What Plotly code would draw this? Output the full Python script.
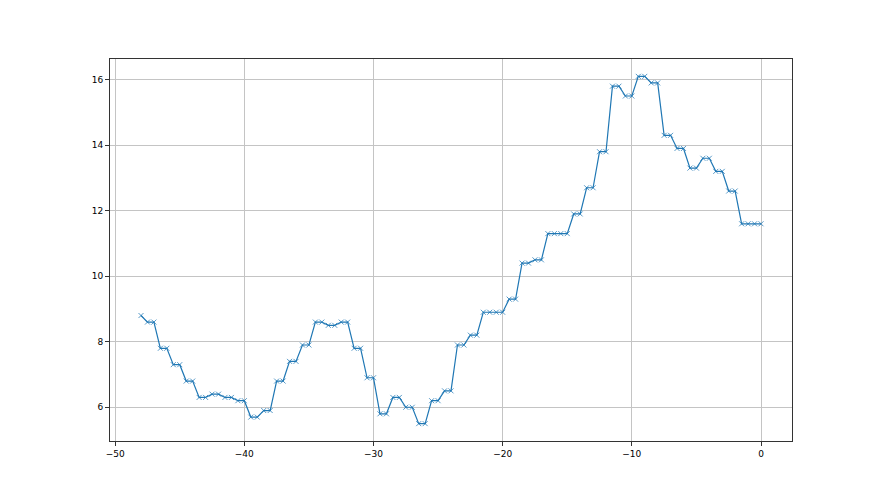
import numpy as np
import plotly.graph_objects as go

x_values = list(np.arange(-48, 0.001, 0.5))
y_values = [
    8.8,
    8.6, 8.6, 7.8, 7.8, 7.3, 7.3, 6.8, 6.8, 6.3, 6.3,
    6.4, 6.4, 6.3, 6.3, 6.2, 6.2, 5.7, 5.7, 5.9, 5.9,
    6.8, 6.8, 7.4, 7.4, 7.9, 7.9, 8.6, 8.6, 8.5, 8.5,
    8.6, 8.6, 7.8, 7.8, 6.9, 6.9, 5.8, 5.8, 6.3, 6.3,
    6.0, 6.0, 5.5, 5.5, 6.2, 6.2, 6.5, 6.5, 7.9, 7.9,
    8.2, 8.2, 8.9, 8.9, 8.9, 8.9, 9.3, 9.3, 10.4, 10.4,
    10.5, 10.5, 11.3, 11.3, 11.3, 11.3, 11.9, 11.9, 12.7, 12.7,
    13.8, 13.8, 15.8, 15.8, 15.5, 15.5, 16.1, 16.1, 15.9, 15.9,
    14.3, 14.3, 13.9, 13.9, 13.3, 13.3, 13.6, 13.6, 13.2, 13.2,
    12.6, 12.6, 11.6, 11.6, 11.6, 11.6,
]
x_ticks = [-50, -40, -30, -20, -10, 0]
y_ticks = [6, 8, 10, 12, 14, 16]

fig = go.Figure()
fig.add_trace(go.Scatter(
    x=x_values, y=y_values, mode="lines+markers",
    line=dict(color="#1f77b4", width=1.2),
    marker=dict(symbol="x-thin", size=5, line=dict(color="rgba(31,119,180,0.75)", width=1)),
    showlegend=False,
))

axis_common = dict(
    showline=True, linecolor="#333333", linewidth=1, mirror=True,
    ticks="outside", ticklen=4, tickcolor="#333333", tickwidth=1,
    showgrid=True, gridcolor="#c4c4c4", gridwidth=1, zeroline=False,
    tickfont=dict(family="DejaVu Sans", size=9, color="black"),
)
fig.update_xaxes(range=[-50.4, 2.4], tickvals=x_ticks, **axis_common)
fig.update_yaxes(range=[4.97, 16.63], tickvals=y_ticks, **axis_common)
fig.update_layout(
    width=880, height=495,
    margin=dict(l=102, r=96, t=51, b=62),
    paper_bgcolor="white", plot_bgcolor="white",
)
fig.write_html("out.html")
